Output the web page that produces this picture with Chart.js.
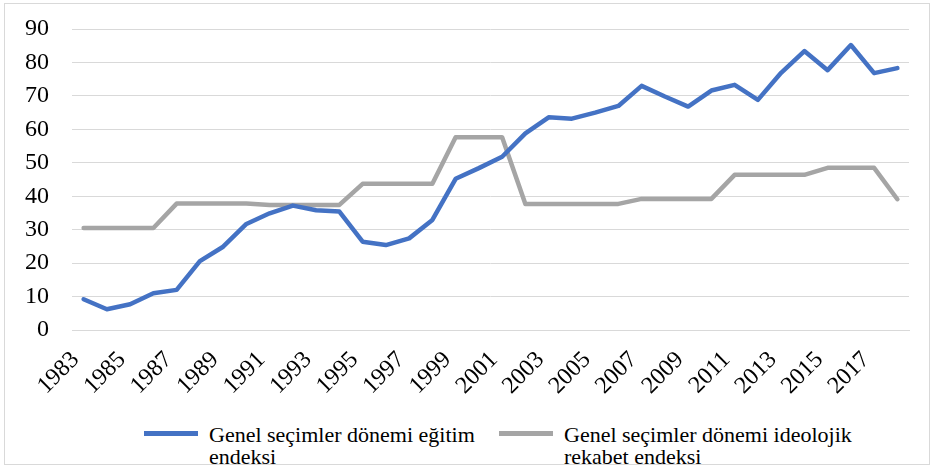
<!DOCTYPE html>
<html>
<head>
<meta charset="utf-8">
<script src="https://cdn.jsdelivr.net/npm/chart.js@4"></script>
<style>
  html, body { margin: 0; padding: 0; background: #fff; }
  #frame { position: absolute; left: 4px; top: 3px; width: 926px; height: 462px; border: 1px solid #d9d9d9; box-sizing: border-box; }
  #wrap { position: absolute; left: 0; top: 0; width: 934px; height: 400px; }
  #legend { position: absolute; left: 0; top: 424px; width: 934px; height: 46px; font-family: "Liberation Serif", "Times New Roman", serif; font-size: 22px; color: #000; }
  .item { position: absolute; top: 0; display: flex; align-items: flex-start; }
  .swatch { width: 54px; height: 5px; margin-top: 7px; margin-right: 11px; }
  .txt { line-height: 22px; white-space: nowrap; }
</style>
</head>
<body>
<div id="frame"></div>
<div id="wrap"><canvas id="c"></canvas></div>
<div id="legend"></div>
<script>
const years = ["1983","1984","1985","1986","1987","1988","1989","1990","1991","1992","1993","1994","1995","1996","1997","1998","1999","2000","2001","2002","2003","2004","2005","2006","2007","2008","2009","2010","2011","2012","2013","2014","2015","2016","2017","2018"];
const egitimEndeksi = [9.2, 6.2, 7.7, 11.0, 12.0, 20.6, 24.9, 31.7, 34.9, 37.2, 35.8, 35.4, 26.4, 25.4, 27.4, 32.9, 45.2, 48.4, 51.8, 58.8, 63.6, 63.2, 65.0, 67.0, 73.0, 69.8, 66.8, 71.6, 73.3, 68.8, 76.9, 83.4, 77.7, 85.2, 76.8, 78.3];
const rekabetEndeksi = [30.5, 30.5, 30.5, 30.5, 37.8, 37.8, 37.8, 37.8, 37.4, 37.4, 37.4, 37.4, 43.7, 43.7, 43.7, 43.7, 57.6, 57.6, 57.6, 37.7, 37.7, 37.7, 37.7, 37.7, 39.2, 39.2, 39.2, 39.2, 46.4, 46.4, 46.4, 46.4, 48.5, 48.5, 48.5, 39.1];
const seriesNames = [["Genel seçimler dönemi eğitim", "endeksi"], ["Genel seçimler dönemi ideolojik", "rekabet endeksi"]];
const seriesColors = ["#4472C4", "#A5A5A5"];
const yTicks = [0, 10, 20, 30, 40, 50, 60, 70, 80, 90];

const font = "'Liberation Serif', 'Times New Roman', serif";

new Chart(document.getElementById('c'), {
  type: 'line',
  data: {
    labels: years,
    datasets: [
      { label: seriesNames[0].join(' '), data: egitimEndeksi, borderColor: seriesColors[0], backgroundColor: seriesColors[0], borderWidth: 4.5, pointRadius: 0, tension: 0, borderJoinStyle: 'round', borderCapStyle: 'round' },
      { label: seriesNames[1].join(' '), data: rekabetEndeksi, borderColor: seriesColors[1], backgroundColor: seriesColors[1], borderWidth: 4.5, pointRadius: 0, tension: 0, borderJoinStyle: 'round', borderCapStyle: 'round' }
    ]
  },
  options: {
    responsive: true,
    maintainAspectRatio: false,
    animation: false,
    layout: { padding: { top: 29, right: 25, left: 0, bottom: 0 } },
    plugins: { legend: { display: false }, tooltip: { enabled: false } },
    scales: {
      x: {
        offset: true,
        grid: { display: false, drawTicks: false },
        border: { display: true, color: '#d9d9d9', width: 1 },
        ticks: {
          autoSkip: false, minRotation: 45, maxRotation: 45, padding: 16, labelOffset: -8,
          color: '#000', font: { family: font, size: 24 },
          callback: function(v, i) { return i % 2 === 0 ? this.getLabelForValue(v) : ''; }
        },
        afterFit: s => { s.height = 70; s.paddingLeft = 0; s.paddingRight = 0; }
      },
      y: {
        min: 0, max: 90,
        afterBuildTicks: s => { s.ticks = yTicks.map(v => ({ value: v })); },
        grid: { color: '#d9d9d9', lineWidth: 1, drawTicks: false },
        border: { display: false },
        ticks: { padding: 23, color: '#000', font: { family: font, size: 24 } },
        afterFit: s => { s.width = 72; s.paddingTop = 0; s.paddingBottom = 0; }
      }
    }
  }
});

const legend = document.getElementById('legend');
const lefts = [144, 499];
seriesNames.forEach((lines, i) => {
  const item = document.createElement('div');
  item.className = 'item';
  item.style.left = lefts[i] + 'px';
  const sw = document.createElement('div');
  sw.className = 'swatch';
  sw.style.background = seriesColors[i];
  const t = document.createElement('div');
  t.className = 'txt';
  lines.forEach(l => {
    const d = document.createElement('div');
    d.textContent = l;
    t.appendChild(d);
  });
  item.appendChild(sw);
  item.appendChild(t);
  legend.appendChild(item);
});
</script>
</body>
</html>
